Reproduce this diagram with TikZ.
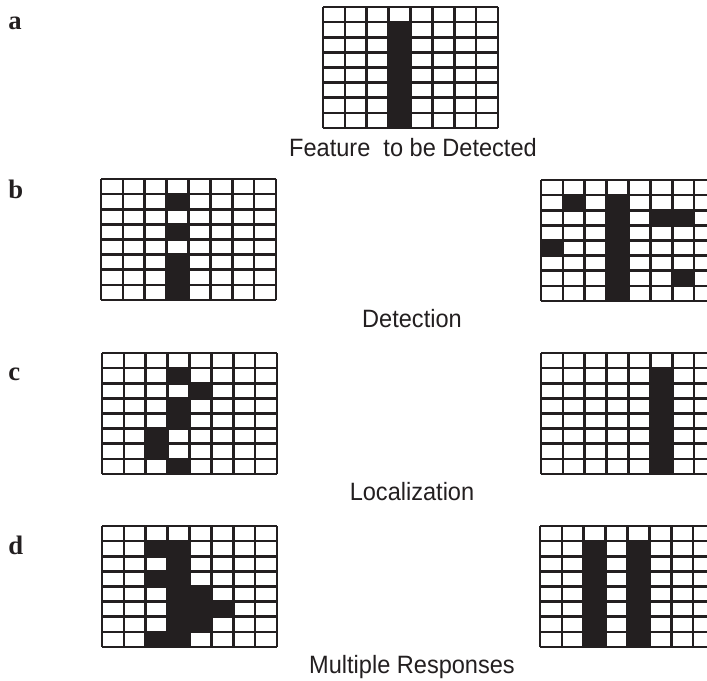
\documentclass[tikz,border=0pt]{standalone}
\usepackage{fontspec}
\setmainfont{Liberation Serif}
\newfontfamily\capfont{Liberation Sans}
\definecolor{ink}{HTML}{231F20}
\tikzset{
  gridline/.style={draw=ink, line width=1.9pt},
  cellfill/.style={fill=ink},
  caption/.style={font=\capfont\fontsize{18.8}{21}\selectfont, anchor=base, inner sep=0pt, text=ink},
  panellabel/.style={font=\bfseries\fontsize{20}{22}\selectfont, anchor=base west, inner sep=0pt, text=ink}
}
\newcommand\narrow[1]{\scalebox{0.94}[1]{#1}}
\newcommand\drawgrid[3]{%
  \foreach \c/\r in {#3} {
    \fill[cellfill] ({#1+(\c-1)*21.875},{#2+(\r-1)*15.125}) rectangle ++(21.875,15.125);
  }
  \foreach \i in {0,...,8} {
    \draw[gridline] ({#1+\i*21.875},#2) -- ++(0,121);
    \draw[gridline] (#1,{#2+\i*15.125}) -- ++(175,0);
  }
}
\begin{document}
\begin{tikzpicture}[x=0.75pt,y=-0.75pt]
\useasboundingbox (0,0) rectangle (707,681);
\clip (0,0) rectangle (707,681);
\fill[white] (0,0) rectangle (707,681);

% a
\drawgrid{323}{7}{4/2,4/3,4/4,4/5,4/6,4/7,4/8}
\node[caption] (capa) at (413,157) {\narrow{Feature\ \ to be Detected}};
\node[panellabel] (la) at (8,30) {a};

% b
\drawgrid{101}{179}{4/2,4/4,4/6,4/7,4/8}
\drawgrid{541}{180}{2/2,4/2,4/3,4/4,4/5,4/6,4/7,4/8,6/3,7/3,1/5,7/7}
\node[caption] (capb) at (412,327) {\narrow{Detection}};
\node[panellabel] (lb) at (8,199) {b};

% c
\drawgrid{102}{353}{4/2,5/3,4/4,4/5,3/6,3/7,4/8}
\drawgrid{541}{353}{6/2,6/3,6/4,6/5,6/6,6/7,6/8}
\node[caption] (capc) at (412,500) {\narrow{Localization}};
\node[panellabel] (lc) at (8,380) {c};

% d
\drawgrid{102}{526}{3/2,4/2,4/3,3/4,4/4,4/5,5/5,4/6,5/6,6/6,4/7,5/7,3/8,4/8}
\drawgrid{540}{526}{3/2,3/3,3/4,3/5,3/6,3/7,3/8,5/2,5/3,5/4,5/5,5/6,5/7,5/8}
\node[caption] (capd) at (412,673) {\narrow{Multiple Responses}};
\node[panellabel] (ld) at (8,554) {d};
\end{tikzpicture}
\end{document}
